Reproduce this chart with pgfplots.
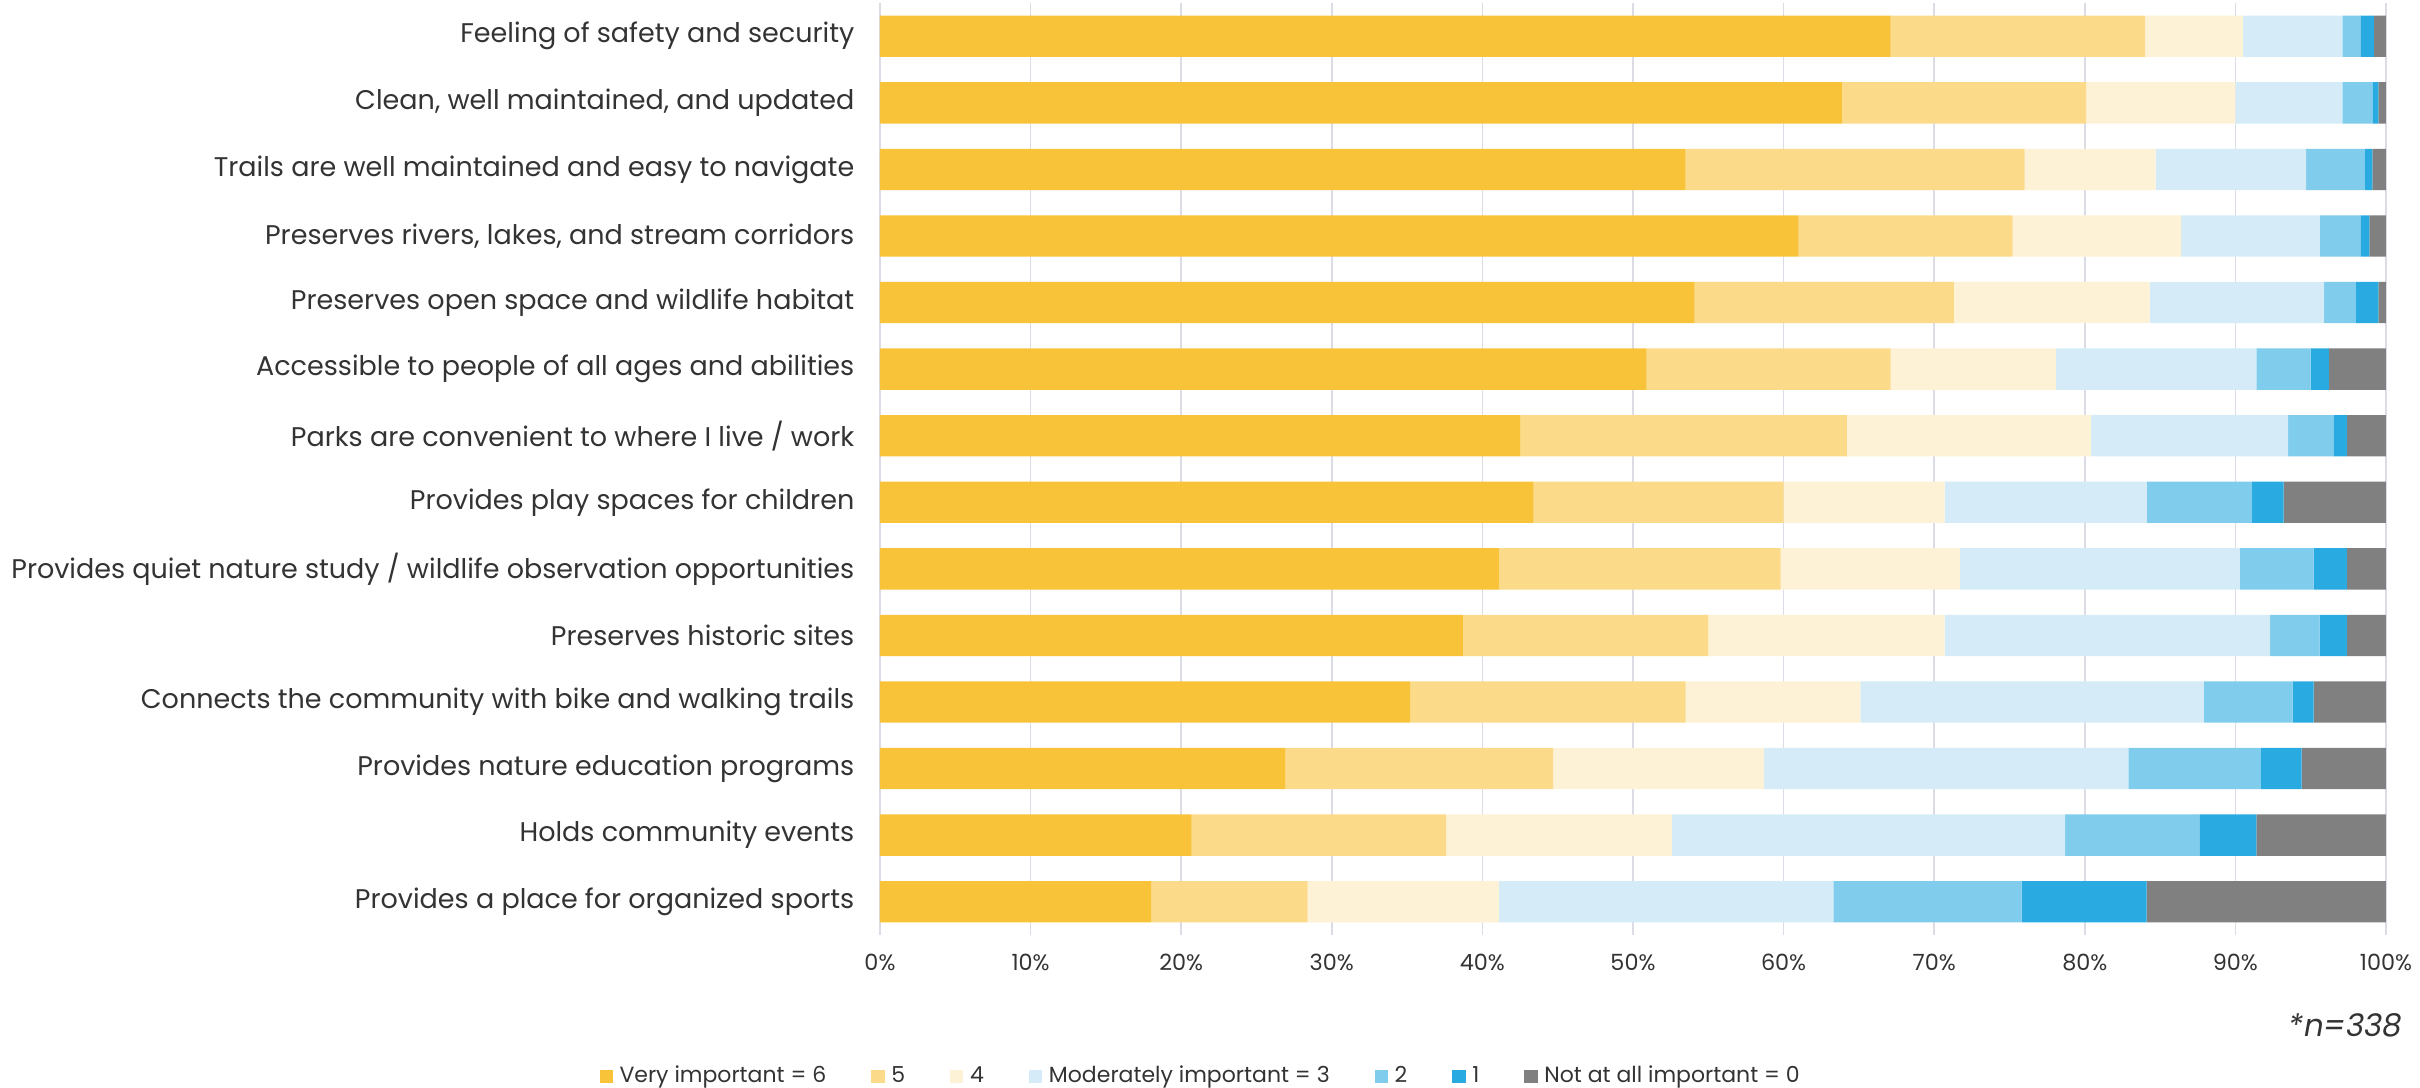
\documentclass[border=0pt]{standalone}
\usepackage{pgfplots}
\pgfplotsset{compat=1.18}
\usepackage{pgfplotstable}
\usepackage{fontspec}
\setmainfont{Poppins}
\definecolor{c6}{HTML}{F8C338}
\definecolor{c5}{HTML}{FBDA8A}
\definecolor{c4}{HTML}{FEF2D6}
\definecolor{c3}{HTML}{D5ECF8}
\definecolor{c2}{HTML}{80CCEC}
\definecolor{c1}{HTML}{29ABE2}
\definecolor{c0}{HTML}{808080}
\definecolor{gridc}{HTML}{DCDCE6}
\definecolor{txt}{HTML}{333333}
\pgfplotstableread{
y v6 v5 v4 v3 v2 v1 v0
0 67.1 16.9 6.5 6.6 1.2 0.9 0.8
1 63.9 16.2 9.9 7.1 2.0 0.4 0.5
2 53.5 22.5 8.7 10.0 3.9 0.5 0.9
3 61.0 14.2 11.2 9.2 2.7 0.6 1.1
4 54.1 17.2 13.0 11.6 2.1 1.5 0.5
5 50.9 16.2 11.0 13.3 3.6 1.2 3.8
6 42.5 21.7 16.2 13.1 3.0 0.9 2.6
7 43.4 16.6 10.7 13.4 7.0 2.1 6.8
8 41.1 18.7 11.9 18.6 4.9 2.2 2.6
9 38.7 16.3 15.7 21.6 3.3 1.8 2.6
10 35.2 18.3 11.6 22.8 5.9 1.4 4.8
11 26.9 17.8 14.0 24.2 8.8 2.7 5.6
12 20.7 16.9 15.0 26.1 8.9 3.8 8.6
13 18.0 10.4 12.7 22.2 12.5 8.3 15.9
}\data
\begin{document}
\begin{tikzpicture}
\useasboundingbox (-264pt,-45.9pt) rectangle (462pt,280.5pt);
\begin{axis}[
  at={(0,0)}, anchor=south west,
  scale only axis, width=451.8pt, height=279.6pt,
  clip=false,
  xbar stacked, bar width=12.4pt,
  xmin=0, xmax=100, ymin=-0.5, ymax=13.5, y dir=reverse,
  ytick={0,...,13},
  yticklabels={Feeling of safety and security,
    {Clean, well maintained, and updated},
    Trails are well maintained and easy to navigate,
    {Preserves rivers, lakes, and stream corridors},
    Preserves open space and wildlife habitat,
    Accessible to people of all ages and abilities,
    Parks are convenient to where I live / work,
    Provides play spaces for children,
    Provides quiet nature study / wildlife observation opportunities,
    Preserves historic sites,
    Connects the community with bike and walking trails,
    Provides nature education programs,
    Holds community events,
    Provides a place for organized sports},
  xtick={0,10,...,100},
  xticklabel={\pgfmathprintnumber{\tick}\%},
  /pgf/number format/assume math mode=true,
  axis line style={draw=none},
  major tick style={draw=none},
  xmajorgrids, grid style={draw=gridc, line width=0.5pt},
  tick label style={text=txt},
  yticklabel style={font=\fontsize{8.1}{9}\selectfont, inner sep=0pt, xshift=-7.5pt},
  xticklabel style={font=\fontsize{6.7}{8}\selectfont, inner sep=0pt, yshift=-5.4pt},
  legend columns=-1,
  legend cell align=left,
  legend style={at={(0.2145,-0.152)}, anchor=center, draw=none, fill=none,
    font=\fontsize{6.6}{8}\selectfont, text=txt, inner sep=0pt,
    /tikz/every even column/.append style={column sep=11.5pt}},
  legend image code/.code={\fill[#1] (0pt,-2pt) rectangle (4pt,2pt);},
]
\addplot[fill=c6, draw=none] table[x=v6, y=y] {\data};
\addplot[fill=c5, draw=none] table[x=v5, y=y] {\data};
\addplot[fill=c4, draw=none] table[x=v4, y=y] {\data};
\addplot[fill=c3, draw=none] table[x=v3, y=y] {\data};
\addplot[fill=c2, draw=none] table[x=v2, y=y] {\data};
\addplot[fill=c1, draw=none] table[x=v1, y=y] {\data};
\addplot[fill=c0, draw=none] table[x=v0, y=y] {\data};
\legend{Very important = 6, 5, 4, Moderately important = 3, 2, 1, Not at all important = 0}
\node[anchor=east, font=\itshape\fontsize{9.3}{11}\selectfont, text=txt, inner sep=0pt] at (axis description cs:1.0113,-0.0966) {*n=338};
\end{axis}
\end{tikzpicture}
\end{document}
